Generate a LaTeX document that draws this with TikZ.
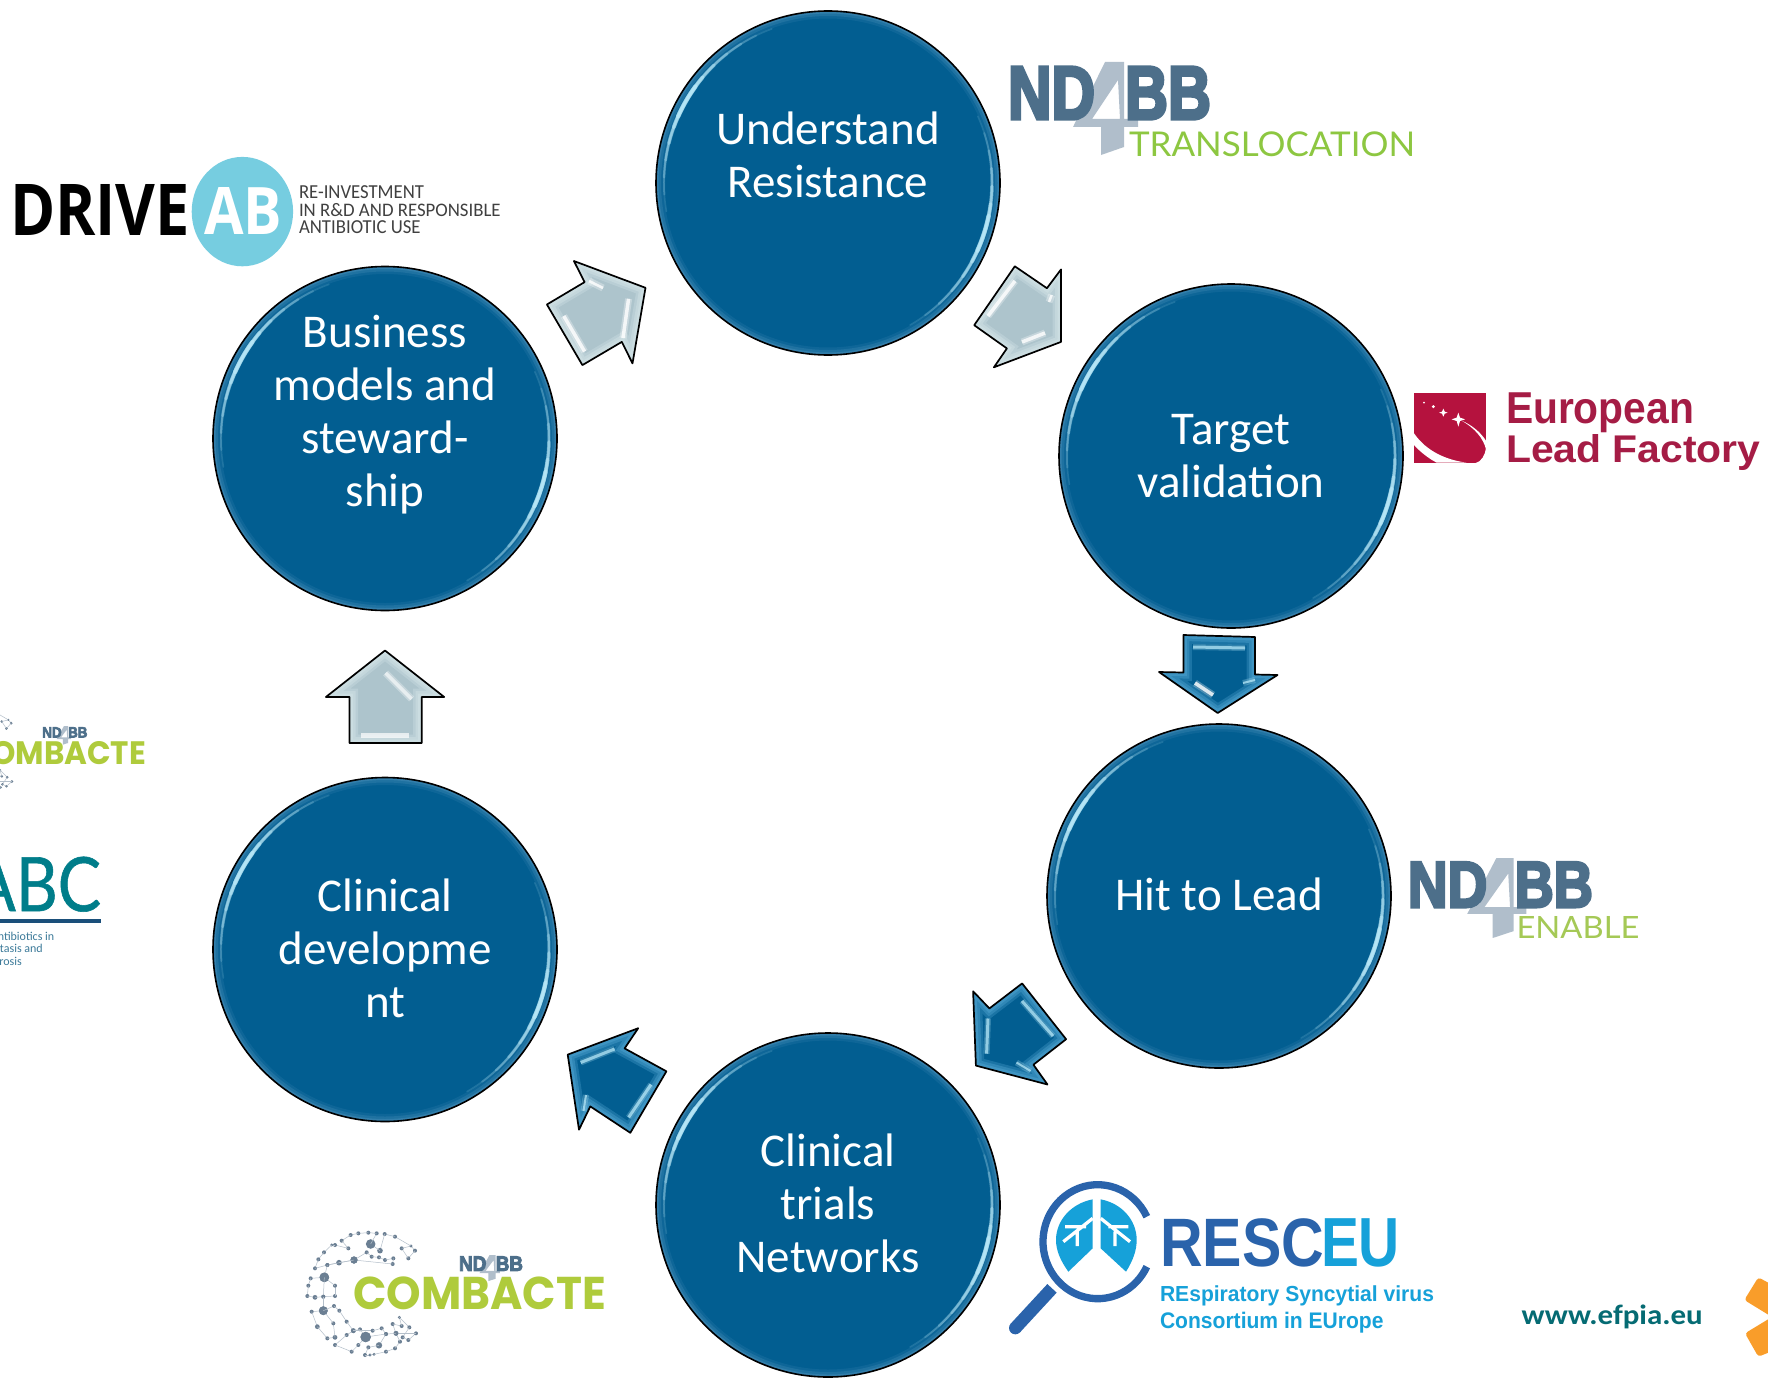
\documentclass[tikz,border=0pt]{standalone}
\usepackage{fontspec}
\usepackage{graphicx}
\setmainfont{Carlito}
\newfontfamily\poppins{Poppins}
\newfontfamily\libsans{Liberation Sans}
\newfontfamily\heavyf[UprightFont=* Bold,FakeBold=4.5]{Liberation Sans}
\newfontfamily\opens{Open Sans}
\newfontfamily\latof{Lato}
\newfontfamily\latomed[FakeBold=.8]{Lato}
\definecolor{bubbleblue}{HTML}{025E91}
\definecolor{rimblue}{HTML}{5E9DC4}
\definecolor{glintblue}{HTML}{BDECFB}
\definecolor{paleblue}{HTML}{ADC4CC}
\definecolor{palerim}{HTML}{D2E2E6}
\definecolor{darkrim}{HTML}{4B9FCC}
\definecolor{ndslate}{HTML}{4D6F8A}
\definecolor{ndgrey}{HTML}{B0BECB}
\definecolor{transgreen}{HTML}{8DC741}
\definecolor{enablegreen}{HTML}{A5C956}
\definecolor{combgreen}{HTML}{AFCB3C}
\definecolor{dotgrey}{HTML}{6B7F93}
\definecolor{linkgrey}{HTML}{B4BFCA}
\definecolor{driveblue}{HTML}{76CDE0}
\definecolor{elfred}{HTML}{B5123E}
\definecolor{elftext}{HTML}{A51C45}
\definecolor{abcteal}{HTML}{007D8A}
\definecolor{abcnavy}{HTML}{1A4F7A}
\definecolor{abcsmall}{HTML}{3C7A99}
\definecolor{rescdark}{HTML}{2A63AB}
\definecolor{resclight}{HTML}{16A1D9}
\definecolor{efpiateal}{HTML}{056B73}
\definecolor{efpiaorange}{HTML}{F99D2A}
\tikzset{
  bubblebase/.style={circle,fill=bubbleblue,minimum size=344pt,inner sep=0pt,outer sep=0pt},
  bubbleline/.style={draw=black,line width=1.6pt},
  bubbletext/.style={text=white,align=center,inner sep=0pt,font=\fontsize{47}{53}\selectfont},
  arrowline/.style={draw=black,line width=1.7pt,line join=round},
  glintwhite/.style={preaction={draw=white,line width=7pt,opacity=.3},draw=white,line width=3.5pt,opacity=.8},
  glintsky/.style={preaction={draw=glintblue,line width=6pt,opacity=.25},draw=glintblue,line width=3pt,opacity=.7},
}
% name x1 y1 x2 y2 colour text : text stretched to fit the box
\newcommand{\fitnode}[7]{%
  \pgfmathsetlengthmacro\fitw{(#4)-(#2)}%
  \pgfmathsetlengthmacro\fith{(#5)-(#3)}%
  \node[anchor=north west,inner sep=0pt,outer sep=0pt,text=#6,transform shape] (#1) at (#2,#3) {\resizebox*{\fitw}{\fith}{#7}};}
\newcommand{\glint}[4]{% cx cy screen-angle half-span
  \foreach \f/\w/\o in {1/1.5/.15,.85/2/.2,.7/2.5/.25,.55/3/.3,.4/3.5/.4,.25/4/.5,.15/4.5/.6}{%
    \pgfmathsetmacro\aa{-(#3)-\f*(#4)}%
    \pgfmathsetmacro\bb{-(#3)+\f*(#4)}%
    \draw[glintblue,line width=\w pt,opacity=\o,line cap=round] ([shift={(\aa:164)}]#1,#2) arc[start angle=\aa,end angle=\bb,radius=164];
  }}
\newcommand{\bubble}[3]{% name cx cy
  \node[bubblebase] (#1) at (#2,#3) {};
  \begin{scope}
    \clip (#2,#3) circle[radius=172];
    \draw[rimblue,line width=15pt,opacity=.14] (#2,#3) circle[radius=172];
    \draw[rimblue,line width=10pt,opacity=.22] (#2,#3) circle[radius=172];
    \draw[rimblue,line width=5pt,opacity=.3] (#2,#3) circle[radius=172];
    \glint{#2}{#3}{150}{40}
    \glint{#2}{#3}{-18}{42}
  \end{scope}
  \draw[bubbleline] (#2,#3) circle[radius=172];}
\newcommand{\bevelarrow}[3]{% base rim path
  \fill[#1] #3;
  \begin{scope}
    \clip #3;
    \draw[#2,line width=17pt,opacity=.35] #3;
    \draw[#2,line width=12pt,opacity=.45] #3;
    \draw[#2,line width=7pt,opacity=.55] #3;
  \end{scope}
  \draw[arrowline] #3;}
\newcommand{\ndbb}[6]{% name x y sx sy (unused)
  \begin{scope}[shift={(#2,#3)},xscale=#4,yscale=#5]
    \fill[ndgrey,even odd rule] (97,0) -- (116,0) -- (116,57) -- (130,57) -- (130,65) -- (116,65) -- (116,85) -- (93,93) -- (93,65) -- (65,65) -- cycle
      (110,18) -- (112,57) -- (84,57) -- cycle;
    \fitnode{#1nd}{0}{5}{87}{57}{ndslate}{\heavyf ND}
    \fitnode{#1bb}{117}{5}{203}{57}{ndslate}{\heavyf BB}
  \end{scope}}
\newcommand{\combacte}[4]{% name x y scale
  \begin{scope}[shift={(#2,#3)},scale=#4]
    \begin{scope}[scale=1/3]
      \foreach \x/\y/\r [remember=\x as \lx (initially 333),remember=\y as \ly (initially 78)] in {
        345/92/5,325/115/5,305/85/5,333/78/4,285/50/5,254/42/5,240/92/7,212/72/12,230/40/5,205/38/5,175/40/5,152/45/5,125/62/5,145/85/5,105/75/5,95/75/4,72/97/5,55/118/5,45/145/5,82/135/5,117/128/7,162/120/9,200/97/5,215/110/5,237/112/5,255/120/5,280/115/5,278/132/5,162/120/9,82/135/5,73/172/12,32/175/5,25/197/5,22/228/5,45/232/6,70/230/5,105/228/5,105/197/5,73/172/12,70/230/5,70/272/11,35/275/5,52/320/6,82/355/5,105/352/6,100/310/5,70/272/11,102/258/5,118/272/5,140/305/5,160/332/6,140/345/5,105/375/5,155/395/5,175/375/5,197/351/13,180/328/5,160/332/6,218/332/5,245/325/5,258/342/5,237/376/8,205/382/5,195/405/5,210/405/4,222/403/4,258/395/5,285/385/5,300/365/5,288/340/6,278/312/5,305/318/5,298/292/4,328/322/5,308/352/5,325/360/5,348/340/5,288/340/6,258/342/5,197/351/13}{
        \draw[linkgrey,line width=.5pt] (\lx,\ly) -- (\x,\y);
        \fill[dotgrey] (\x,\y) circle[radius=1.2*\r];
      }
    \end{scope}
    \ndbb{#1n}{159}{35}{.315}{.28}{}
    \fitnode{#1t}{53.3}{57}{306}{90}{combgreen}{\poppins\bfseries COMBACTE}
  \end{scope}}
\begin{document}
\begin{tikzpicture}[x=1pt,y=-1pt]
\useasboundingbox (0,0) rectangle (1768,1378);
\fill[white] (0,0) rectangle (1768,1378);
\begin{scope}
\clip (0,0) rectangle (1768,1378);

% ---- bubbles
\bubble{understand}{828}{183}
\bubble{target}{1231}{456}
\bubble{hit}{1219}{896}
\bubble{trials}{828}{1205}
\bubble{clinical}{385}{949.5}
\bubble{business}{385}{438.5}
\node[bubbletext] (tunderstand) at (828,160) {\strut Understand\\Resistance\strut};
\node[bubbletext] (ttarget) at (1231,460.6) {\strut Target\\validation\strut};
\node[bubbletext] (thit) at (1219,900) {\strut Hit to Lead\strut};
\node[bubbletext] (ttrials) at (828,1209.2) {\strut Clinical\\trials\\Networks\strut};
\node[bubbletext] (tclinical) at (385,953.4) {\strut Clinical\\developme\\nt\strut};
\node[bubbletext] (tbusiness) at (385,416) {\strut Business\\models and\\steward-\\ship\strut};

% ---- block arrows
\bevelarrow{paleblue}{palerim}{(546.9,304.5) -- (584.6,282.1) -- (573.9,261) -- (645.5,287.8) -- (632.5,363.4) -- (621.8,341.9) -- (582.4,365.1) -- cycle}
\draw[glintwhite] (563.8,316) -- (584.6,351.5);
\draw[glintwhite] (628.6,298.8) -- (623,338);
\draw[glintwhite,line width=2.5pt] (589,281) -- (603,288);

\bevelarrow{paleblue}{palerim}{(1014.8,266.3) -- (1046.9,288.2) -- (1061,269.4) -- (1061,341.9) -- (993.9,367.3) -- (1006.9,348.4) -- (974.2,325.2) -- cycle}
\draw[glintwhite] (1015,281) -- (988,316);
\draw[glintwhite] (1022,342) -- (1045,333);
\draw[glintwhite,line width=2.5pt] (1051.7,295) -- (1049,302);

\bevelarrow{bubbleblue}{darkrim}{(1183.4,635) -- (1255,637) -- (1255,674.5) -- (1277.5,675) -- (1217.7,713) -- (1159,672) -- (1183.4,672.5) -- cycle}
\draw[glintsky] (1193,647) -- (1245,648);
\draw[glintwhite] (1195,683) -- (1213,695);
\draw[glintsky,line width=2pt] (1243,683) -- (1255,680);

\bevelarrow{bubbleblue}{darkrim}{(1022.1,983.4) -- (1066.1,1039.2) -- (1033.4,1064.7) -- (1047.5,1084.5) -- (975.9,1065.6) -- (973.1,991.3) -- (989.4,1008.4) -- cycle}
\draw[glintsky] (1022,1001) -- (1053,1036);
\draw[glintsky] (988,1018.5) -- (986.6,1053.7);
\draw[glintsky,line width=2pt] (1016.5,1062.5) -- (1030.6,1071);

\bevelarrow{bubbleblue}{darkrim}{(666.4,1071.3) -- (630.3,1132.8) -- (590.3,1106.4) -- (579,1129.7) -- (567.7,1054.6) -- (638.2,1028.2) -- (624.6,1048.4) -- cycle}
\draw[glintsky] (580.7,1062.5) -- (614.5,1049);
\draw[glintsky] (651,1084.5) -- (628.6,1117.4);
\draw[glintsky,line width=2pt] (586,1095) -- (583.5,1111);

\bevelarrow{paleblue}{palerim}{(349.5,743) -- (421.7,743) -- (421.7,697) -- (444.2,697) -- (385,650.5) -- (325.9,697) -- (349.5,697) -- cycle}
\draw[glintwhite,opacity=.6] (385.6,673) -- (411.6,699);
\draw[draw=white,line width=5pt,opacity=.7] (361,735) -- (409,735);

% ---- DRIVE AB
\fitnode{drive}{10}{184}{190}{235}{black}{\opens\bfseries DRIVE}
\fill[driveblue] (242.4,211.6) ellipse[x radius=50.7,y radius=54.7];
\fitnode{ab}{204}{187}{282}{234}{white}{\opens\bfseries AB}
\fitnode{drivea}{299}{186}{424}{199}{black!75}{RE-INVESTMENT}
\fitnode{driveb}{299}{203.4}{500.6}{216.6}{black!75}{IN R\&D AND RESPONSIBLE}
\fitnode{drivec}{299}{221}{420.6}{234}{black!75}{ANTIBIOTIC USE}

% ---- ND4BB TRANSLOCATION
\ndbb{trans}{1008}{62}{1}{1}{}
\fitnode{translocation}{1129}{132}{1415}{157}{transgreen}{\latof TRANSLOCATION}

% ---- European Lead Factory
\begin{scope}[shift={(1400,380)},scale=1/3]
  \fill[elfred] (42,38) rectangle (258,248);
  \fill[white] (42,160) .. controls (80,215) and (140,240) .. (200,248) -- (110,248) .. controls (85,235) and (60,215) .. (42,195) -- cycle;
  \fill[white] (185,122) .. controls (225,145) and (250,175) .. (258,208) -- (258,182) .. controls (240,155) and (215,135) .. (185,122) -- cycle;
  \fill[white] (258,205) -- (260,250) -- (225,250) .. controls (245,245) and (255,225) .. (258,205) -- cycle;
  \fill[white] (175,98) -- (180,113) -- (195,118) -- (180,123) -- (175,140) -- (170,123) -- (155,118) -- (170,113) -- cycle;
  \fill[white] (130,86) -- (134,95) -- (143,98) -- (134,101) -- (130,110) -- (126,101) -- (117,98) -- (126,95) -- cycle;
  \fill[white] (100,80) circle[radius=5];
  \fill[white] (72,68) circle[radius=3];
\end{scope}
\fitnode{european}{1506}{393}{1694}{433}{elftext}{\libsans\bfseries European}
\fitnode{leadfactory}{1506}{435}{1760.6}{471}{elftext}{\libsans\bfseries Lead Factory}

% ---- ND4BB ENABLE
\ndbb{enable}{1408}{858}{.911}{.86}{}
\fitnode{enabletext}{1516.5}{916.6}{1639.4}{938.6}{enablegreen}{\latof ENABLE}

% ---- COMBACTE (two copies)
\combacte{cbottom}{300}{1220}{1}
\combacte{ctop}{-70}{701.5}{.706}

% ---- ABC
\fitnode{abc}{-28}{856.7}{101}{911.7}{abcteal}{\latomed ABC}
\fill[abcnavy] (0,919.3) rectangle (101,923.3);
\node[anchor=base east,inner sep=0pt,text=abcsmall,font=\fontsize{12}{14}\selectfont] (abca) at (54.5,940) {ntibiotics in};
\node[anchor=base east,inner sep=0pt,text=abcsmall,font=\fontsize{12}{14}\selectfont] (abcb) at (43,952.5) {tasis and};
\node[anchor=base east,inner sep=0pt,text=abcsmall,font=\fontsize{12}{14}\selectfont] (abcc) at (22,965) {rosis};

% ---- RESCEU
\begin{scope}[shift={(1000,1170)},scale=1/3]
  \draw[rescdark,line width=7.3pt] (293,215) ++(-26:164 and 171) arc[start angle=-26,end angle=-334,x radius=164,y radius=171];
  \draw[rescdark,line width=12.7pt] (156,355) -- (46,474);
  \fill[rescdark] (46,474) circle[radius=19];
  \fill[resclight] (278,88) -- (278,235) -- (205,305) .. controls (180,270) and (168,240) .. (168,210) .. controls (168,150) and (215,100) .. (278,88) -- cycle;
  \fill[resclight] (302,88) -- (302,235) -- (378,305) .. controls (400,270) and (410,240) .. (410,210) .. controls (410,150) and (365,100) .. (302,88) -- cycle;
  \draw[white,line width=3.3pt] (278,145) -- (190,215) (195,170) -- (258,170) (232,185) -- (232,228);
  \draw[white,line width=3.3pt] (302,145) -- (390,215) (325,170) -- (385,170) (345,185) -- (345,228);
\end{scope}
\fitnode{resc}{1160}{1218.5}{1324}{1267}{rescdark}{\libsans\bfseries RESC}
\fitnode{eu}{1321}{1218.5}{1400}{1267}{resclight}{\libsans\bfseries EU}
\fitnode{resca}{1160}{1285.7}{1434}{1306}{resclight}{\libsans\bfseries REspiratory Syncytial virus}
\fitnode{rescb}{1160}{1312}{1383.5}{1333}{resclight}{\libsans\bfseries Consortium in EUrope}

% ---- efpia
\fitnode{efpia}{1521.7}{1305}{1702.7}{1329}{efpiateal}{\bfseries www.efpia.eu}
\fill[efpiaorange,rounded corners=3pt] (1758.3,1277.3) -- (1744.3,1300) -- (1790,1328) -- (1800,1300) -- cycle;
\fill[efpiaorange,rounded corners=3pt] (1745,1333.3) -- (1790,1306) -- (1800,1340) -- (1758.3,1356.7) -- cycle;
\end{scope}
\end{tikzpicture}
\end{document}
